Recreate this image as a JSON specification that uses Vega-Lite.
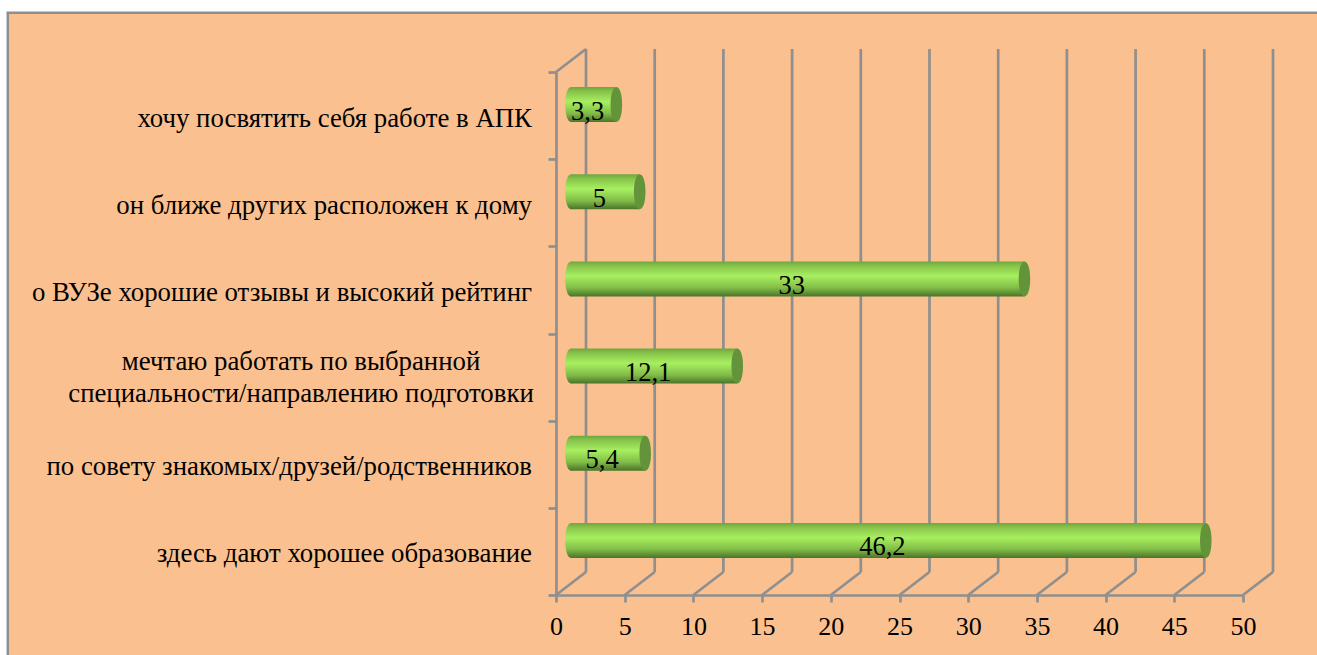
{"$schema":"https://vega.github.io/schema/vega-lite/v6.json","width":687,"height":523,"autosize":{"type":"none"},"padding":{"left":556,"top":72,"right":74,"bottom":60},"background":"#ffffff","config":{"view":{"stroke":null}},
"datasets":{"bars":[{"category":"здесь дают хорошее образование","rank":1,"value":46.2,"label":"46,2"},{"category":"по совету знакомых/друзей/родственников","rank":2,"value":5.4,"label":"5,4"},{"category":"мечтаю работать по выбранной\nспециальности/направлению подготовки","rank":3,"value":12.1,"label":"12,1"},{"category":"о ВУЗе хорошие отзывы и высокий рейтинг","rank":4,"value":33,"label":"33"},{"category":"он ближе других расположен к дому","rank":5,"value":5,"label":"5"},{"category":"хочу посвятить себя работе в АПК","rank":6,"value":3.3,"label":"3,3"}],"ticks":[{"tick":0},{"tick":5},{"tick":10},{"tick":15},{"tick":20},{"tick":25},{"tick":30},{"tick":35},{"tick":40},{"tick":45},{"tick":50}]},
"layer":[
{"data":{"values":[{"frame":"background"}]},"transform":[{"calculate":"-39.9","as":"x0"},{"calculate":"60","as":"x1"},{"calculate":"7.18","as":"y0"},{"calculate":"-0.5","as":"y1"}],"mark":{"type":"rect","fill":"#fbc08f","stroke":"#8f8f8f","strokeWidth":2.5},"encoding":{"x":{"field":"x0","type":"quantitative","scale":{"domain":[0,50],"nice":false},"axis":{"values":[0,5,10,15,20,25,30,35,40,45,50],"title":null,"grid":false,"zindex":1,"domainColor":"#8f8f8f","domainWidth":2.7,"tickColor":"#8f8f8f","tickWidth":2.7,"tickSize":7,"labelFont":"Liberation Serif","labelFontSize":26,"labelColor":"#000000","labelPadding":11,"labelFlush":false,"labelOverlap":false}},"x2":{"field":"x1"},"y":{"field":"y0","type":"quantitative","scale":{"domain":[0.5,6.5],"nice":false,"zero":false},"axis":{"values":[0.5,1.5,2.5,3.5,4.5,5.5,6.5],"title":null,"grid":false,"zindex":1,"domainColor":"#8f8f8f","domainWidth":2.7,"tickColor":"#8f8f8f","tickWidth":2.7,"tickSize":8,"labels":false}},"y2":{"field":"y1"}}},
{"data":{"name":"ticks"},"transform":[{"calculate":"0.5","as":"y0"},{"calculate":"6.5","as":"y1"}],"mark":{"type":"rule","color":"#8f8f8f","strokeWidth":2.7,"xOffset":30,"x2Offset":30,"yOffset":-23,"y2Offset":-23},"encoding":{"x":{"field":"tick","type":"quantitative"},"y":{"field":"y0","type":"quantitative"},"y2":{"field":"y1"}}},
{"data":{"name":"ticks"},"transform":[{"calculate":"0.5","as":"y0"}],"mark":{"type":"rule","color":"#8f8f8f","strokeWidth":2.7,"x2Offset":30,"y2Offset":-23},"encoding":{"x":{"field":"tick","type":"quantitative"},"x2":{"field":"tick"},"y":{"field":"y0","type":"quantitative"},"y2":{"field":"y0"}}},
{"data":{"values":[{"edge":"top"}]},"transform":[{"calculate":"0","as":"x0"},{"calculate":"6.5","as":"y0"}],"mark":{"type":"rule","color":"#8f8f8f","strokeWidth":2.7,"x2Offset":30,"y2Offset":-23},"encoding":{"x":{"field":"x0","type":"quantitative"},"x2":{"field":"x0"},"y":{"field":"y0","type":"quantitative"},"y2":{"field":"y0"}}},
{"data":{"name":"bars"},"transform":[{"calculate":"0","as":"start"}],"mark":{"type":"point","filled":true,"opacity":1,"size":1225,"shape":"M0,-1C0.44,-1,0.44,1,0,1C-0.44,1,-0.44,-1,0,-1Z","xOffset":15,"yOffset":-11,"fill":{"gradient":"linear","x1":0,"y1":0,"x2":0,"y2":1,"stops":[{"offset":0,"color":"#6fa63c"},{"offset":0.12,"color":"#86c24a"},{"offset":0.42,"color":"#a8ef60"},{"offset":0.75,"color":"#82bd48"},{"offset":1,"color":"#4a7429"}]}},"encoding":{"x":{"field":"start","type":"quantitative"},"y":{"field":"rank","type":"quantitative"}}},
{"data":{"name":"bars"},"transform":[{"calculate":"0","as":"start"}],"mark":{"type":"rect","xOffset":15,"x2Offset":15,"yOffset":-28.5,"y2Offset":6.5,"fill":{"gradient":"linear","x1":0,"y1":0,"x2":0,"y2":1,"stops":[{"offset":0,"color":"#6fa63c"},{"offset":0.12,"color":"#86c24a"},{"offset":0.42,"color":"#a8ef60"},{"offset":0.75,"color":"#82bd48"},{"offset":1,"color":"#4a7429"}]}},"encoding":{"x":{"field":"start","type":"quantitative"},"x2":{"field":"value"},"y":{"field":"rank","type":"quantitative"},"y2":{"field":"rank"}}},
{"data":{"name":"bars"},"mark":{"type":"point","filled":true,"opacity":1,"size":1225,"shape":"M0,-1C0.44,-1,0.44,1,0,1C-0.44,1,-0.44,-1,0,-1Z","xOffset":15,"yOffset":-11,"fill":"#63943a"},"encoding":{"x":{"field":"value","type":"quantitative"},"y":{"field":"rank","type":"quantitative"}}},
{"data":{"name":"bars"},"transform":[{"calculate":"datum.value/2","as":"middle"}],"mark":{"type":"text","font":"Liberation Serif","fontSize":26.5,"color":"#000000","align":"center","baseline":"middle","xOffset":9,"yOffset":-4},"encoding":{"x":{"field":"middle","type":"quantitative"},"y":{"field":"rank","type":"quantitative"},"text":{"field":"label"}}},
{"data":{"name":"bars"},"transform":[{"filter":"datum.rank != 3"},{"calculate":"0","as":"start"}],"mark":{"type":"text","font":"Liberation Serif","fontSize":26.8,"color":"#000000","align":"right","baseline":"middle","xOffset":-24,"yOffset":3},"encoding":{"x":{"field":"start","type":"quantitative"},"y":{"field":"rank","type":"quantitative"},"text":{"field":"category"}}},
{"data":{"name":"bars"},"transform":[{"filter":"datum.rank == 3"},{"calculate":"0","as":"start"}],"mark":{"type":"text","font":"Liberation Serif","fontSize":26.8,"color":"#000000","align":"center","baseline":"middle","lineBreak":"\n","lineHeight":32,"xOffset":-255,"yOffset":-15},"encoding":{"x":{"field":"start","type":"quantitative"},"y":{"field":"rank","type":"quantitative"},"text":{"field":"category"}}}
]}
